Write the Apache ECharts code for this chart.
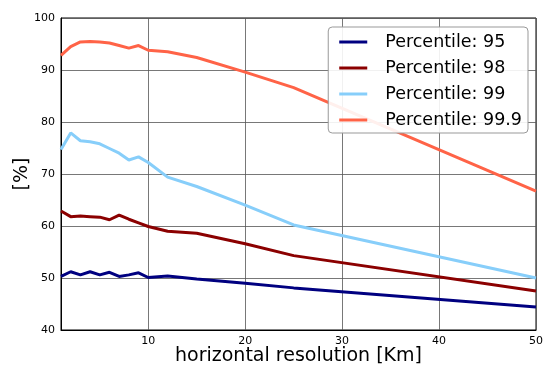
<!DOCTYPE html>
<html><head><meta charset="utf-8">
<script src="https://cdn.jsdelivr.net/npm/echarts@6/dist/echarts.min.js"></script>
<style>html,body{margin:0;padding:0;background:#fff}#c{width:544px;height:367px}</style>
</head><body><div id="c"></div>
<script>
const resolutions = [1,2,3,4,5,6,7,8,9,10,12,15,20,25,50];
const p95  = [50.3,51.2,50.6,51.2,50.6,51.1,50.3,50.6,51.0,50.1,50.4,49.8,49.0,48.1,44.4];
const p98  = [62.9,61.8,61.9,61.8,61.7,61.2,62.1,61.3,60.6,59.9,59.0,58.6,56.6,54.3,47.5];
const p99  = [74.7,77.9,76.4,76.2,75.8,74.9,74.0,72.7,73.3,72.2,69.4,67.6,64.0,60.2,50.0];
const p999 = [92.8,94.5,95.4,95.5,95.4,95.2,94.7,94.2,94.7,93.8,93.5,92.4,89.6,86.6,66.7];
const seriesNames = ['Percentile: 95','Percentile: 98','Percentile: 99','Percentile: 99.9'];
const xTicks = [10,20,30,40,50];
const colors = ['#000080','#8B0000','#87CEFA','#FF6347'];
const all = [p95,p98,p99,p999];
const font = 'DejaVu Sans';
const chart = echarts.init(document.getElementById('c'));
chart.setOption({
  animation:false,
  textStyle:{fontFamily:font},
  grid:{left:61,right:8,top:18,bottom:37,show:true,borderColor:'#000',borderWidth:1,
        containLabel:false,outerBoundsMode:'none'},
  legend:{
    right:16,top:27,orient:'vertical',
    backgroundColor:'rgba(255,255,255,0.9)',borderColor:'#999',borderWidth:1,borderRadius:4,
    padding:[6,6,4,11],itemGap:8,itemWidth:28,itemHeight:3,
    icon:'rect',
    textStyle:{fontSize:17.5,color:'#000',fontFamily:font,padding:[0,0,0,13]},
    data:seriesNames
  },
  xAxis:{
    type:'value',min:1,max:50,
    name:'horizontal resolution [Km]',nameLocation:'middle',nameGap:17,nameMoveOverlap:false,
    nameTextStyle:{fontSize:19,color:'#000'},
    axisLine:{show:true,lineStyle:{color:'#000'}},
    axisTick:{show:false,customValues:xTicks},
    axisLabel:{customValues:xTicks,fontSize:11,color:'#000',margin:6},
    splitLine:{show:true,lineStyle:{color:'#555',width:0.8}}
  },
  yAxis:{
    type:'value',min:40,max:100,interval:10,
    name:'[%]',nameLocation:'middle',nameGap:29,nameMoveOverlap:false,
    nameTextStyle:{fontSize:19,color:'#000'},
    axisLine:{show:true,lineStyle:{color:'#000'}},
    axisTick:{show:false},
    axisLabel:{fontSize:11,color:'#000',margin:6},
    splitLine:{show:true,lineStyle:{color:'#555',width:0.8}}
  },
  series: all.map((d,i)=>({
    name:seriesNames[i],type:'line',showSymbol:false,symbol:'none',
    data:resolutions.map((x,j)=>[x,d[j]]),
    lineStyle:{color:colors[i],width:3},itemStyle:{color:colors[i]},z:2
  }))
});
</script></body></html>
